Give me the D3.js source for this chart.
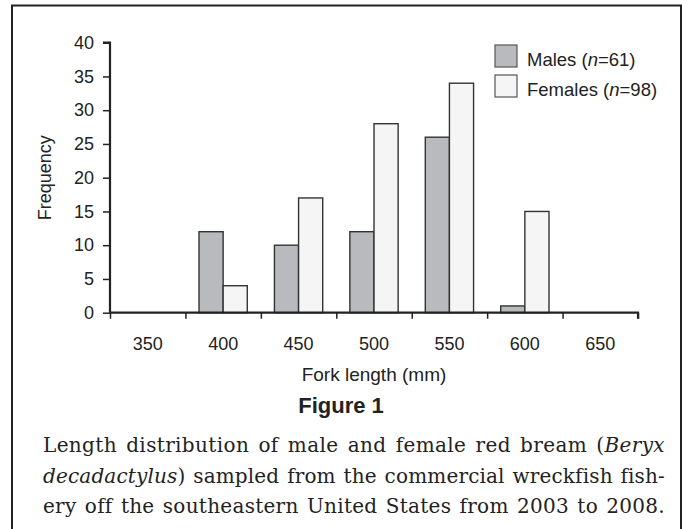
<!DOCTYPE html>
<html>
<head>
<meta charset="utf-8">
<script src="https://cdn.jsdelivr.net/npm/d3@7"></script>
<style>
  body { margin: 0; background: #fff; }
  svg { display: block; }
  .tick text { font-family: "Liberation Sans", Arial, sans-serif; }
</style>
</head>
<body>
<div id="chart"></div>
<script>
const categories = ["350", "400", "450", "500", "550", "600", "650"];
const males = [0, 12, 10, 12, 26, 1, 0];
const females = [0, 4, 17, 28, 34, 15, 0];
const seriesNames = ["Males", "Females"];
const seriesN = [61, 98];
const yTicks = [0, 5, 10, 15, 20, 25, 30, 35, 40];
const captionLines = [
  [["Length distribution of male and female red bream (", false], ["Beryx", true]],
  [["decadactylus", true], [") sampled from the commercial wreckfish fish-", false]],
  [["ery off the southeastern United States from 2003 to 2008.", false]]
];

const width = 682;
const height = 529;
const plotLeft = 110, plotRight = 638, plotTop = 42.7, plotBottom = 312.7;
const colors = { Males: "#b9babe", Females: "#f5f5f5" };
const sans = "Liberation Sans, Arial, sans-serif";

const svg = d3.select("#chart")
  .append("svg")
  .attr("width", width)
  .attr("height", height);

// frame
svg.append("rect")
  .attr("x", 12).attr("y", 5.5)
  .attr("width", 669).attr("height", 540)
  .attr("fill", "none")
  .attr("stroke", "#222")
  .attr("stroke-width", 2);

const x0 = d3.scaleBand()
  .domain(categories)
  .range([plotLeft, plotRight])
  .paddingInner(0.36)
  .paddingOuter(0.18);

const x1 = d3.scaleBand()
  .domain(seriesNames)
  .range([0, x0.bandwidth()]);

const y = d3.scaleLinear()
  .domain([0, 40])
  .range([plotBottom, plotTop]);

const rows = categories.map((c, i) => ({ cat: c, Males: males[i], Females: females[i] }));

// bars
const groups = svg.selectAll("g.group")
  .data(rows)
  .enter()
  .append("g")
  .attr("class", "group")
  .attr("transform", (d) => `translate(${x0(d.cat)},0)`);

groups.selectAll("rect")
  .data((d) => seriesNames.map((s) => ({ s, v: d[s] })).filter((e) => e.v > 0))
  .enter()
  .append("rect")
  .attr("x", (d) => x1(d.s))
  .attr("y", (d) => y(d.v))
  .attr("width", x1.bandwidth())
  .attr("height", (d) => y(0) - y(d.v))
  .attr("fill", (d) => colors[d.s])
  .attr("stroke", "#333")
  .attr("stroke-width", 1.4);

// y axis
const yAxis = svg.append("g")
  .attr("transform", `translate(${plotLeft},0)`)
  .call(d3.axisLeft(y).tickValues(yTicks).tickSize(7).tickPadding(9));
yAxis.selectAll("text").attr("font-size", 18).attr("fill", "#222");

// x axis (ticks at bin boundaries)
const xBoundary = d3.scaleLinear().domain([0, categories.length]).range([plotLeft, plotRight]);
const xAxis = svg.append("g")
  .attr("transform", `translate(0,${plotBottom})`)
  .call(d3.axisBottom(xBoundary).tickValues(d3.range(categories.length + 1)).tickSize(6).tickFormat(""));

svg.append("g")
  .attr("transform", `translate(0,${plotBottom})`)
  .call(d3.axisBottom(x0).tickSize(0).tickPadding(25))
  .call((g) => g.select(".domain").remove())
  .selectAll("text").attr("font-size", 18).attr("fill", "#222");

svg.selectAll(".domain").attr("stroke", "#222").attr("stroke-width", 2.2);
svg.selectAll(".tick line").attr("stroke", "#222").attr("stroke-width", 1.5);
yAxis.select(".domain").attr("d", `M-7,${plotTop}H0V${plotBottom}`);
xAxis.select(".domain").attr("d", `M${plotLeft},0H${plotRight}V6`);

// axis titles
svg.append("text")
  .attr("x", (plotLeft + plotRight) / 2)
  .attr("y", 381)
  .attr("text-anchor", "middle")
  .attr("font-family", sans)
  .attr("font-size", 19)
  .attr("fill", "#222")
  .text("Fork length (mm)");

svg.append("text")
  .attr("transform", `translate(51,${(plotTop + plotBottom) / 2}) rotate(-90)`)
  .attr("text-anchor", "middle")
  .attr("font-family", sans)
  .attr("font-size", 18)
  .attr("fill", "#222")
  .text("Frequency");

// legend
const legend = svg.append("g").attr("transform", "translate(495,45)");
seriesNames.forEach((s, i) => {
  const g = legend.append("g").attr("transform", `translate(0,${i * 30})`);
  g.append("rect")
    .attr("width", 22).attr("height", 22)
    .attr("fill", colors[s])
    .attr("stroke", "#555")
    .attr("stroke-width", 1.2);
  const t = g.append("text")
    .attr("x", 32).attr("y", 21)
    .attr("font-family", sans)
    .attr("font-size", 18.5)
    .attr("fill", "#222");
  t.append("tspan").text(`${s} (`);
  t.append("tspan").attr("font-style", "italic").text("n");
  t.append("tspan").text(`=${seriesN[i]})`);
});

// caption
svg.append("text")
  .attr("x", 341)
  .attr("y", 413)
  .attr("text-anchor", "middle")
  .attr("font-family", sans)
  .attr("font-weight", "bold")
  .attr("font-size", 22)
  .attr("fill", "#222")
  .text("Figure 1");

const capLeft = 43, capRight = 665;
captionLines.forEach((parts, i) => {
  const t = svg.append("text")
    .attr("x", capLeft)
    .attr("y", 452 + i * 30.5)
    .attr("font-family", "DejaVu Serif, serif")
    .attr("font-size", 20)
    .attr("fill", "#222");
  parts.forEach(([txt, it]) => {
    t.append("tspan").attr("font-style", it ? "italic" : null).text(txt);
  });
  // justify: half the gap into letter spacing, the rest into word gaps
  const full = parts.map((p) => p[0]).join("");
  const w = t.node().getComputedTextLength();
  const extra = capRight - capLeft - w;
  t.attr("letter-spacing", (extra * 0.5) / full.length);
  const w2 = t.node().getComputedTextLength();
  const spaces = full.split(" ").length - 1;
  if (spaces > 0) t.attr("word-spacing", (capRight - capLeft - w2) / spaces);
});
</script>
</body>
</html>
